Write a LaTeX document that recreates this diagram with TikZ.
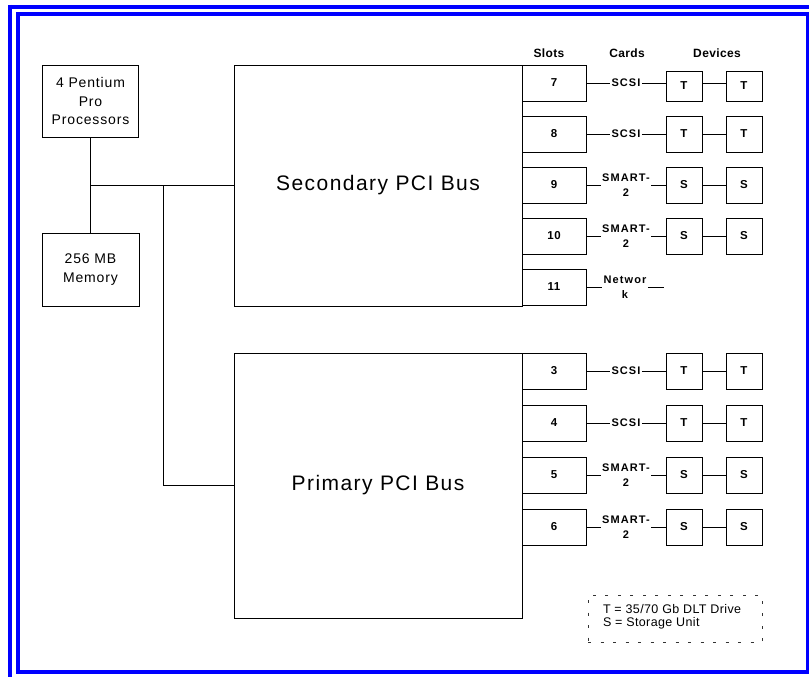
\documentclass[tikz,border=0pt]{standalone}
\usepackage{fontspec}
\setmainfont{Liberation Sans}
\newfontfamily\busfont[LetterSpace=7]{Liberation Sans}
\newfontfamily\boxfont[LetterSpace=6]{Liberation Sans}
\newfontfamily\lblfont[LetterSpace=5]{Liberation Sans}
\newfontfamily\cardfont[LetterSpace=10]{Liberation Sans}
\newfontfamily\hdrfont[LetterSpace=3]{Liberation Sans}
\newfontfamily\legfont[LetterSpace=3]{Liberation Sans}
\definecolor{frameblue}{RGB}{0,0,255}
\begin{document}
\begin{tikzpicture}[x=1pt,y=-1pt,
  every node/.style={inner sep=0pt, outer sep=0pt},
  ln/.style={line width=0.8pt, draw=black},
  box/.style={draw=black, line width=0.8pt, rectangle, align=center},
  slotbox/.style={box, minimum width=64pt, minimum height=36pt, font=\lblfont\bfseries\fontsize{11.5}{13}\selectfont},
  devbox/.style={box, minimum width=36pt, minimum height=36pt, font=\lblfont\bfseries\fontsize{11.5}{13}\selectfont},
  cardlbl/.style={inner sep=1.5pt, align=center, font=\cardfont\bfseries\fontsize{11}{15}\selectfont},
  hdr/.style={font=\hdrfont\bfseries\fontsize{12}{14}\selectfont},
  framel/.style={draw=frameblue, line width=4pt}
]
\useasboundingbox (0,0) rectangle (809,677);
% frame
\draw[framel] (8,7) -- (809,7);
\draw[framel] (10,5) -- (10,677);
\draw[framel] (18,14) rectangle (807.5,672);

% left boxes
\node[box, minimum width=96pt, minimum height=72pt, font=\boxfont\fontsize{14}{18.5}\selectfont] (proc) at (90.5,101) {4 Pentium\\Pro\\Processors};
\node[box, minimum width=97pt, minimum height=73pt, font=\boxfont\fontsize{14}{19}\selectfont] (mem) at (90.5,269.5) {256 MB\\Memory};

% buses
\node[box, minimum width=288pt, minimum height=241pt, font=\busfont\fontsize{21}{24}\selectfont] (sec) at (378,185.5) {Secondary PCI Bus};
\node[box, minimum width=288pt, minimum height=265pt, font=\busfont\fontsize{21}{24}\selectfont] (pri) at (378,485.5) {Primary PCI Bus};

\draw[ln] (proc.south) -- (mem.north);
\coordinate (jn) at (proc.south |- sec.west);
\coordinate (br) at (163,185.5);
\draw[ln] (jn) -- (sec.west);
\draw[ln] (br) |- (pri.west);

% headers
\node[hdr] (hslots) at (549,53) {Slots};
\node[hdr] (hcards) at (627,53) {Cards};
\node[hdr] (hdev) at (717,53) {Devices};

% slots
\foreach \n/\y in {7/83,8/134,9/185,10/236,11/287,3/371,4/423,5/475,6/527}
  \node[slotbox] (s\n) at (554,\y) {\n};

% cards
\foreach \n/\y in {7/83,8/134,3/371,4/423}
  \node[cardlbl] (c\n) at (626,\y) {SCSI};
\foreach \n/\y in {9/185,10/236,5/475,6/527}
  \node[cardlbl] (c\n) at (626,\y) {SMART-\\2};
\node[cardlbl] (c11) at (625,287) {Networ\\k};

% devices
\node[devbox, minimum height=30pt] (d7a) at (684,86) {T};
\node[devbox, minimum height=30pt] (d7b) at (744,86) {T};
\foreach \n/\y/\t in {8/134/T,3/371/T,4/423/T,9/185/S,10/236/S,5/475/S,6/527/S}{
  \node[devbox] (d\n a) at (684,\y) {\t};
  \node[devbox] (d\n b) at (744,\y) {\t};
}

% connections
\foreach \n in {7,8,9,10,3,4,5,6}{
  \draw[ln] (s\n.east) -- (c\n.west);
  \draw[ln] (c\n.east) -- (c\n.east -| d\n a.west);
  \draw[ln] (c\n.east -| d\n a.east) -- (c\n.east -| d\n b.west);
}
\coordinate (n11) at (664,287);
\draw[ln] (s11.east) -- (c11.west);
\draw[ln] (c11.east) -- (n11);

% legend
\node[draw=black!80, line width=0.6pt, dash pattern=on 3pt off 9.5pt, minimum width=174pt, minimum height=47pt] (legbox) at (675,618.5) {};
\node[anchor=west, align=left, font=\legfont\fontsize{12.5}{13}\selectfont] (leg) at (603,617.2) {T = 35/70 Gb DLT Drive\\S = Storage Unit};
\end{tikzpicture}
\end{document}
